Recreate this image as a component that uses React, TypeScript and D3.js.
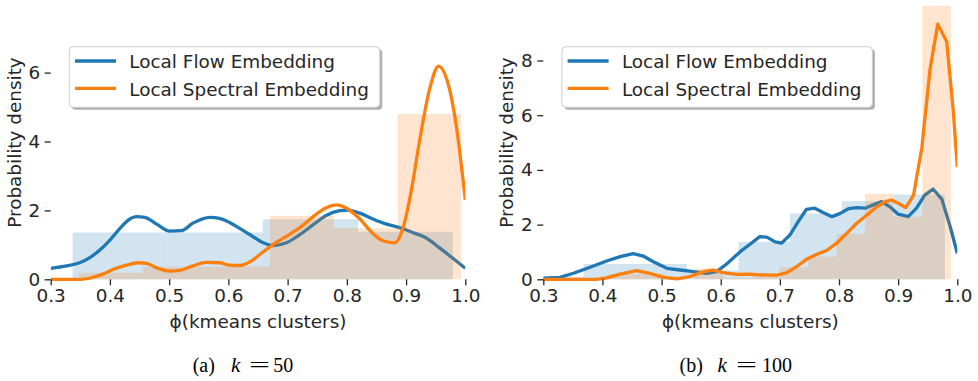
import React, { useEffect, useRef } from 'react';
import * as d3 from 'd3';

const seriesNames = ['Local Flow Embedding', 'Local Spectral Embedding'];
const colors = ['#1f77b4', '#ff7f0e'];
const xTicks = [0.3, 0.4, 0.5, 0.6, 0.7, 0.8, 0.9, 1.0];
const yTicksA = [0, 2, 4, 6];
const yTicksB = [0, 2, 4, 6, 8];
const xLabel = 'ϕ(kmeans clusters)';
const yLabel = 'Probability density';

// (a) k = 50 : histogram bins (edges, densities) and kde curves
const aFlowEdges = [0.337, 0.497, 0.658, 0.819, 0.979];
const aFlowHist = [1.36, 1.36, 1.74, 1.38];
const aSpecEdges = [0.348, 0.455, 0.563, 0.67, 0.778, 0.886, 0.993];
const aSpecHist = [0.19, 0.37, 0.37, 1.84, 1.48, 4.8];

const aFlowX = [0.3, 0.327, 0.349, 0.366, 0.383, 0.4, 0.417, 0.431, 0.445, 0.459, 0.479, 0.501, 0.521, 0.54, 0.569, 0.585, 0.602, 0.619, 0.636, 0.659, 0.676, 0.698, 0.72, 0.743, 0.765, 0.788, 0.802, 0.822, 0.844, 0.867, 0.889, 0.911, 0.934, 0.956, 0.979, 1.0];
const aFlowY = [0.32, 0.39, 0.48, 0.63, 0.85, 1.14, 1.48, 1.72, 1.82, 1.8, 1.6, 1.4, 1.41, 1.63, 1.8, 1.77, 1.65, 1.48, 1.3, 1.06, 0.98, 1.06, 1.29, 1.58, 1.85, 1.99, 2.01, 1.92, 1.75, 1.6, 1.5, 1.36, 1.2, 0.92, 0.61, 0.32];
const aSpecX = [0.3, 0.35, 0.372, 0.388, 0.406, 0.428, 0.448, 0.462, 0.481, 0.501, 0.518, 0.54, 0.563, 0.585, 0.602, 0.619, 0.636, 0.659, 0.681, 0.704, 0.726, 0.749, 0.765, 0.782, 0.799, 0.822, 0.844, 0.861, 0.881, 0.895, 0.909, 0.923, 0.94, 0.955, 0.969, 0.985, 1.0];
const aSpecY = [0.0, 0.0, 0.06, 0.15, 0.29, 0.41, 0.48, 0.46, 0.32, 0.24, 0.26, 0.39, 0.49, 0.48, 0.41, 0.4, 0.5, 0.8, 1.07, 1.31, 1.57, 1.9, 2.08, 2.16, 2.07, 1.75, 1.33, 1.12, 1.06, 1.5, 2.59, 4.04, 5.54, 6.19, 5.79, 4.43, 2.3];

// (b) k = 100
const bFlowEdges = [0.281, 0.368, 0.455, 0.543, 0.63, 0.717, 0.805, 0.892, 0.979];
const bFlowHist = [0.1, 0.56, 0.56, 0.33, 1.37, 2.41, 2.86, 3.1];
const bSpecEdges = [0.362, 0.41, 0.459, 0.507, 0.555, 0.604, 0.652, 0.699, 0.748, 0.796, 0.844, 0.892, 0.941, 0.989];
const bSpecHist = [0, 0.19, 0.21, 0, 0.4, 0.05, 0.1, 0.44, 0.83, 1.66, 3.12, 2.29, 10.0];

const bFlowX = [0.3, 0.328, 0.351, 0.379, 0.407, 0.43, 0.452, 0.469, 0.486, 0.509, 0.531, 0.554, 0.576, 0.593, 0.61, 0.633, 0.65, 0.666, 0.678, 0.692, 0.703, 0.717, 0.731, 0.745, 0.759, 0.773, 0.788, 0.802, 0.816, 0.83, 0.844, 0.858, 0.872, 0.886, 0.9, 0.917, 0.931, 0.945, 0.959, 0.974, 0.988, 1.0];
const bFlowY = [0.04, 0.07, 0.22, 0.44, 0.67, 0.83, 0.94, 0.85, 0.64, 0.4, 0.34, 0.28, 0.22, 0.28, 0.56, 1.01, 1.29, 1.56, 1.54, 1.37, 1.32, 1.62, 2.11, 2.56, 2.6, 2.44, 2.29, 2.41, 2.58, 2.62, 2.6, 2.72, 2.84, 2.65, 2.38, 2.29, 2.6, 3.08, 3.3, 2.92, 1.92, 0.95];
const bSpecX = [0.3, 0.39, 0.407, 0.43, 0.458, 0.48, 0.503, 0.526, 0.548, 0.571, 0.587, 0.604, 0.627, 0.649, 0.666, 0.695, 0.712, 0.728, 0.745, 0.762, 0.779, 0.796, 0.813, 0.83, 0.847, 0.864, 0.878, 0.889, 0.9, 0.913, 0.926, 0.94, 0.954, 0.967, 0.982, 0.993, 1.0];
const bSpecY = [0.0, 0.0, 0.05, 0.19, 0.32, 0.22, 0.07, 0.02, 0.1, 0.28, 0.34, 0.24, 0.18, 0.19, 0.16, 0.15, 0.24, 0.46, 0.73, 0.91, 1.05, 1.32, 1.68, 2.05, 2.35, 2.65, 2.84, 2.9, 2.78, 2.62, 3.08, 4.8, 7.7, 9.33, 8.69, 6.2, 4.1];

const FONT = '"DejaVu Sans", sans-serif';
const SERIF = '"Liberation Serif", serif';
const INK = '#262626';

type Hist = { edges: number[]; heights: number[] };

function Panel(props: {
  id: string; x0: number; x1: number; yMax: number; yTop: number; yTicks: number[];
  hists: Hist[]; kdes: [number[], number[]][]; curve: d3.CurveFactory;
  tag: string; k: string; capX: number[];
}) {
  const { id, x0, x1, yMax, yTop, yTicks, hists, kdes, curve, tag, k, capX } = props;
  const yBase = 279.3;
  const x = d3.scaleLinear().domain([0.3, 1.0]).range([x0, x1]);
  const y = d3.scaleLinear().domain([0, yMax]).range([yBase, yTop]);
  const xAxisRef = useRef<SVGGElement>(null);
  const yAxisRef = useRef<SVGGElement>(null);

  useEffect(() => {
    const style = (g: d3.Selection<SVGGElement, unknown, null, undefined>) => {
      g.select('.domain').remove();
      g.attr('font-family', FONT).attr('font-size', 18.4);
      g.selectAll('line').attr('stroke', INK).attr('stroke-width', 1.3);
      g.selectAll('text').attr('fill', INK);
    };
    d3.select(xAxisRef.current!)
      .call(d3.axisBottom(x).tickValues(xTicks).tickSize(6).tickPadding(4).tickFormat(d3.format('.1f')))
      .call(style);
    d3.select(yAxisRef.current!)
      .call(d3.axisLeft(y).tickValues(yTicks).tickSize(6).tickPadding(4.5).tickFormat(d3.format('d')))
      .call(style);
  }, []);

  const lx = x0 + 18.6;

  const layers: JSX.Element[] = [];
  hists.forEach((h, s) => {
    layers.push(
      <g key={'h' + s} fill={colors[s]} fillOpacity={0.2}>
        {h.heights.map((v, i) => (
          <rect key={i} x={x(h.edges[i])} width={x(h.edges[i + 1]) - x(h.edges[i])}
            y={y(v)} height={yBase - y(v)} />
        ))}
      </g>
    );
    const [kx, ky] = kdes[s];
    const path = d3.line<number>().curve(curve).x((_, i) => x(kx[i])).y((d) => y(d))(ky);
    layers.push(<path key={'k' + s} d={path || ''} fill="none" stroke={colors[s]} strokeWidth={3.3} strokeLinejoin="round" />);
  });

  return (
    <g>
      <defs>
        <clipPath id={id}>
          <rect x={x0} y={0} width={x1 - x0} height={yBase + 2} />
        </clipPath>
      </defs>
      <g clipPath={`url(#${id})`}>{layers}</g>
      <g ref={xAxisRef} transform={`translate(0,${yBase})`} />
      <g ref={yAxisRef} transform={`translate(${x0},0)`} />
      <text x={(x0 + x1) / 2} y={328} textAnchor="middle" fontFamily={FONT} fontSize={18.4} fill={INK}>{xLabel}</text>
      <text transform={`translate(${x0 - 30},142.5) rotate(-90)`} textAnchor="middle" fontFamily={FONT} fontSize={18.4} fill={INK}>{yLabel}</text>
      {/* legend */}
      <rect x={lx + 2.5} y={46.7 + 2.5} width={310.5} height={60.6} rx={4} fill="#4d4d4d" fillOpacity={0.45} />
      <rect x={lx} y={46.7} width={310.5} height={60.6} rx={4} fill="#fff" stroke="#cccccc" strokeWidth={1} />
      {seriesNames.map((n, i) => (
        <g key={n}>
          <line x1={lx + 5.7} x2={lx + 46.7} y1={61 + i * 27.3} y2={61 + i * 27.3} stroke={colors[i]} strokeWidth={3.3} />
          <text x={lx + 60} y={68.2 + i * 27.3} fontFamily={FONT} fontSize={18.4} fill={INK}>{n}</text>
        </g>
      ))}
      {/* sub-caption */}
      <g fontFamily={SERIF} fontSize={20} fill="#000">
        <text x={capX[0]} y={371.5}>{tag}</text>
        <text x={capX[1]} y={371.5} fontStyle="italic" fontSize={21}>k</text>
        <text x={capX[2]} y={371.5} textLength={21} lengthAdjust="spacingAndGlyphs">=</text>
        <text x={capX[3]} y={371.5}>{k}</text>
      </g>
    </g>
  );
}

export default function App() {
  return (
    <svg width={978} height={381} style={{ position: 'absolute', left: 0, top: 0, background: '#fff' }}>
      <Panel id="clipA" x0={50.7} x1={465.3} yMax={8} yTop={3.7} yTicks={yTicksA}
        hists={[{ edges: aFlowEdges, heights: aFlowHist }, { edges: aSpecEdges, heights: aSpecHist }]}
        kdes={[[aFlowX, aFlowY], [aSpecX, aSpecY]]} curve={d3.curveMonotoneX}
        tag="(a)" k="50" capX={[192.7, 231, 249, 273.3]} />
      <Panel id="clipB" x0={543.3} x1={957.3} yMax={10} yTop={5.8} yTicks={yTicksB}
        hists={[{ edges: bFlowEdges, heights: bFlowHist }, { edges: bSpecEdges, heights: bSpecHist }]}
        kdes={[[bFlowX, bFlowY], [bSpecX, bSpecY]]} curve={d3.curveLinear}
        tag="(b)" k="100" capX={[679.5, 717.5, 736, 762]} />
    </svg>
  );
}
